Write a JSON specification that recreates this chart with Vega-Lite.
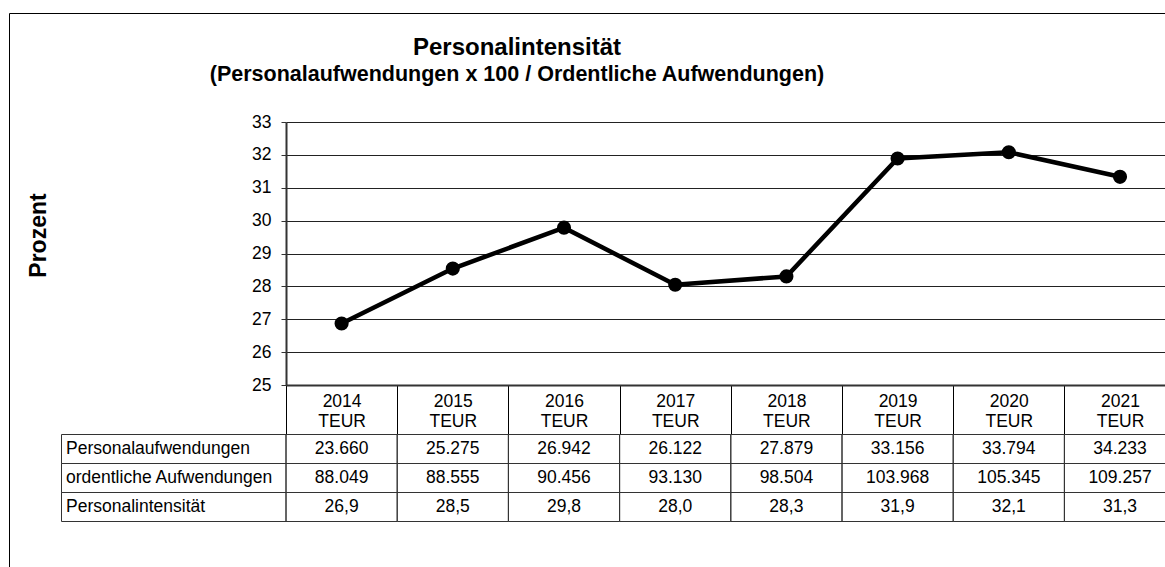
{
  "$schema": "https://vega.github.io/schema/vega-lite/v6.json",
  "width": 879,
  "height": 263,
  "autosize": {"type": "none"},
  "padding": {"left": 286, "top": 122, "right": 0, "bottom": 182},
  "background": "white",
  "config": {
    "font": "Liberation Sans",
    "view": {"stroke": null},
    "locale": {"number": {"decimal": ",", "thousands": ".", "grouping": [3], "currency": ["", " €"]}}
  },
  "title": {
    "text": "Personalintensität",
    "subtitle": "(Personalaufwendungen x 100 / Ordentliche Aufwendungen)",
    "anchor": "middle",
    "frame": "group",
    "dx": -208.5,
    "offset": -72.5,
    "font": "Liberation Sans",
    "fontSize": 24,
    "fontWeight": "bold",
    "color": "black",
    "subtitleFont": "Liberation Sans",
    "subtitleFontSize": 21.5,
    "subtitleFontWeight": "bold",
    "subtitleColor": "black",
    "subtitlePadding": 4
  },
  "data": {"values": [
    {"Jahr": 2014, "Personalaufwendungen": 23660, "ordentliche Aufwendungen": 88049, "Personalintensität": 26.871},
    {"Jahr": 2015, "Personalaufwendungen": 25275, "ordentliche Aufwendungen": 88555, "Personalintensität": 28.542},
    {"Jahr": 2016, "Personalaufwendungen": 26942, "ordentliche Aufwendungen": 90456, "Personalintensität": 29.785},
    {"Jahr": 2017, "Personalaufwendungen": 26122, "ordentliche Aufwendungen": 93130, "Personalintensität": 28.049},
    {"Jahr": 2018, "Personalaufwendungen": 27879, "ordentliche Aufwendungen": 98504, "Personalintensität": 28.302},
    {"Jahr": 2019, "Personalaufwendungen": 33156, "ordentliche Aufwendungen": 103968, "Personalintensität": 31.891},
    {"Jahr": 2020, "Personalaufwendungen": 33794, "ordentliche Aufwendungen": 105345, "Personalintensität": 32.079},
    {"Jahr": 2021, "Personalaufwendungen": 34233, "ordentliche Aufwendungen": 109257, "Personalintensität": 31.333}
  ]},
  "resolve": {
    "scale": {"x": "independent", "y": "independent"},
    "axis": {"x": "independent", "y": "independent"}
  },
  "layer": [
    {
      "data": {"values": [{}]},
      "mark": {"type": "rect", "filled": false, "stroke": "black", "strokeWidth": 1},
      "encoding": {
        "x": {"datum": 0, "type": "quantitative", "scale": {"domain": [0, 1], "range": [-276.5, 881], "nice": false, "zero": false}, "axis": null},
        "x2": {"datum": 1},
        "y": {"datum": 0, "type": "quantitative", "scale": {"domain": [0, 1], "range": [-108.5, 447], "nice": false, "zero": false}, "axis": null},
        "y2": {"datum": 1}
      }
    },
    {
      "transform": [
        {"fold": ["Personalaufwendungen", "ordentliche Aufwendungen", "Personalintensität"], "as": ["Zeile", "Wert"]},
        {"filter": "datum.Jahr == 2014"}
      ],
      "encoding": {
        "y": {"field": "Zeile", "type": "nominal", "axis": null,
              "scale": {"type": "band", "domain": ["Personalaufwendungen", "ordentliche Aufwendungen", "Personalintensität"], "range": [312, 399], "paddingInner": 0, "paddingOuter": 0}},
        "x": {"datum": 0, "type": "quantitative", "axis": null, "scale": {"domain": [0, 1], "range": [-225, 0], "nice": false, "zero": false}}
      },
      "layer": [
        {"mark": {"type": "rect", "filled": false, "stroke": "#333", "strokeWidth": 1, "xOffset": 0.5, "yOffset": 0.5},
         "encoding": {"x2": {"datum": 1}}},
        {"mark": {"type": "text", "align": "left", "baseline": "middle", "dx": 5, "fontSize": 17.5, "color": "black"},
         "encoding": {"text": {"field": "Zeile"}}}
      ]
    },
    {
      "encoding": {
        "x": {"field": "Jahr", "type": "ordinal", "axis": null,
              "scale": {"type": "band", "range": [0, 889.6], "paddingInner": 0, "paddingOuter": 0}}
      },
      "layer": [
        {"transform": [{"fold": ["Personalaufwendungen", "ordentliche Aufwendungen", "Personalintensität"], "as": ["Zeile", "Wert"]}],
         "mark": {"type": "rect", "filled": false, "stroke": "#333", "strokeWidth": 1, "yOffset": 0.5},
         "encoding": {"y": {"field": "Zeile", "type": "nominal", "axis": null,
              "scale": {"type": "band", "domain": ["Personalaufwendungen", "ordentliche Aufwendungen", "Personalintensität"], "range": [312, 399], "paddingInner": 0, "paddingOuter": 0}}}},
        {"mark": {"type": "text", "baseline": "middle", "fontSize": 17.5, "color": "black"},
         "encoding": {"y": {"datum": "Personalaufwendungen", "type": "nominal", "axis": null},
                      "text": {"field": "Personalaufwendungen", "type": "quantitative", "format": ",.0f"}}},
        {"mark": {"type": "text", "baseline": "middle", "fontSize": 17.5, "color": "black"},
         "encoding": {"y": {"datum": "ordentliche Aufwendungen", "type": "nominal", "axis": null},
                      "text": {"field": "ordentliche Aufwendungen", "type": "quantitative", "format": ",.0f"}}},
        {"mark": {"type": "text", "baseline": "middle", "fontSize": 17.5, "color": "black"},
         "encoding": {"y": {"datum": "Personalintensität", "type": "nominal", "axis": null},
                      "text": {"field": "Personalintensität", "type": "quantitative", "format": ".1f"}}}
      ]
    },
    {
      "encoding": {
        "x": {"field": "Jahr", "type": "ordinal",
              "scale": {"type": "band", "range": [0, 889.6], "paddingInner": 0, "paddingOuter": 0},
              "axis": {"orient": "bottom", "title": null, "labelExpr": "datum.label ? [datum.label, 'TEUR'] : ''",
                       "labelFontSize": 17.5, "labelColor": "black", "labelLineHeight": 20,
                       "labelBaseline": "alphabetic", "labelPadding": -27.3, "labelOverlap": false,
                       "labelAngle": 0, "tickBand": "extent", "tickSize": 49, "tickColor": "black",
                       "tickWidth": 1, "domainColor": "#333", "domainWidth": 2, "grid": false}},
        "y": {"field": "Personalintensität", "type": "quantitative",
              "scale": {"domain": [25, 33], "nice": false, "zero": false},
              "axis": {"orient": "left", "values": [25, 26, 27, 28, 29, 30, 31, 32, 33],
                       "grid": true, "gridColor": "#222", "gridWidth": 1,
                       "labelFontSize": 17.5, "labelColor": "black", "labelPadding": 10,
                       "tickSize": 5, "tickColor": "#333", "domainColor": "#333", "domainWidth": 2,
                       "title": "Prozent", "titleFontSize": 23, "titleFontWeight": "bold", "titleColor": "black",
                       "titleX": -241, "titleY": 113, "titleAngle": -90, "titleAlign": "center", "titleBaseline": "alphabetic"}}
      },
      "layer": [
        {"mark": {"type": "line", "color": "black", "strokeWidth": 4.5}},
        {"mark": {"type": "point", "filled": true, "color": "black", "size": 200, "opacity": 1}}
      ]
    }
  ]
}
